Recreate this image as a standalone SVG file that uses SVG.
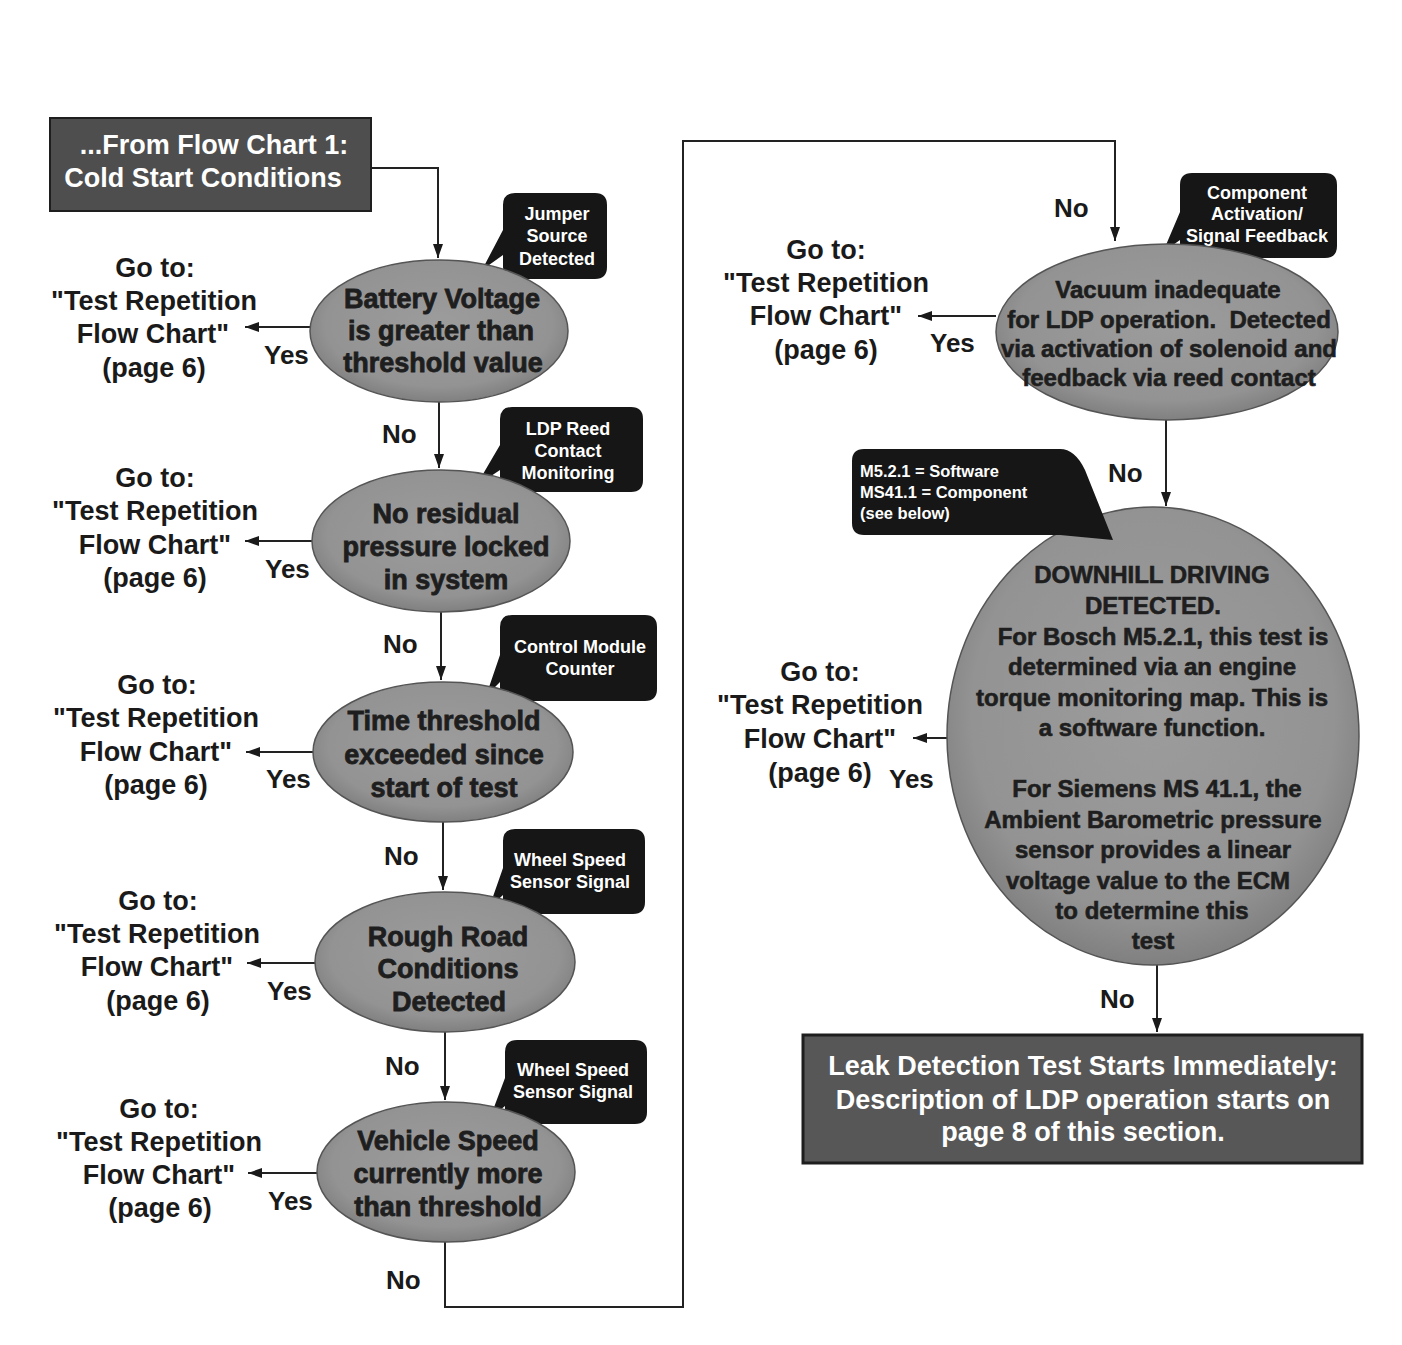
<svg xmlns="http://www.w3.org/2000/svg" width="1402" height="1345" viewBox="0 0 1402 1345">
<style>
.bg{fill:#ffffff}
.conn{fill:none;stroke:#222;stroke-width:2}
.box{fill:#4e4e4e;stroke:#1e1e1e;stroke-width:2}
.box2{fill:#575757;stroke:#1e1e1e;stroke-width:3}
.ell{fill:url(#eg);stroke:#555;stroke-width:1.5}
.call{fill:#161616}
.wt{font-family:"Liberation Sans",Arial,sans-serif;font-weight:bold;fill:#ffffff;text-anchor:middle}
.et{font-family:"Liberation Sans",Arial,sans-serif;font-weight:bold;fill:#1e1e1e;text-anchor:middle;font-size:27px;stroke:#1e1e1e;stroke-width:0.8}
.et2{font-family:"Liberation Sans",Arial,sans-serif;font-weight:bold;fill:#1e1e1e;text-anchor:middle;font-size:24px;stroke:#1e1e1e;stroke-width:0.6}
.gt{font-family:"Liberation Sans",Arial,sans-serif;font-weight:bold;fill:#1a1a1a;text-anchor:middle;font-size:27px}
.lb{font-family:"Liberation Sans",Arial,sans-serif;font-weight:bold;fill:#1a1a1a;font-size:26px}
.ct{font-family:"Liberation Sans",Arial,sans-serif;font-weight:bold;fill:#ffffff;text-anchor:middle;font-size:18px}
</style>
<defs>
<radialGradient id="eg" cx="50%" cy="45%" r="55%">
<stop offset="0" stop-color="#9c9c9c"/>
<stop offset="0.8" stop-color="#939393"/>
<stop offset="1" stop-color="#808080"/>
</radialGradient>
<marker id="ah" viewBox="0 0 14 10" refX="14" refY="5" markerWidth="14" markerHeight="10" markerUnits="userSpaceOnUse" orient="auto">
<path d="M0,0 L14,5 L0,10 z" fill="#1a1a1a"/>
</marker>
</defs>
<rect class="bg" x="0" y="0" width="1402" height="1345"/>

<g id="connectors">
<path class="conn" d="M371,168 H438 V258" marker-end="url(#ah)"/>
<path class="conn" d="M311,327 H245" marker-end="url(#ah)"/>
<path class="conn" d="M439,402 V468" marker-end="url(#ah)"/>
<path class="conn" d="M313,541 H245" marker-end="url(#ah)"/>
<path class="conn" d="M441,612 V680" marker-end="url(#ah)"/>
<path class="conn" d="M314,752 H246" marker-end="url(#ah)"/>
<path class="conn" d="M443,822 V890" marker-end="url(#ah)"/>
<path class="conn" d="M316,963 H247" marker-end="url(#ah)"/>
<path class="conn" d="M445,1032 V1100" marker-end="url(#ah)"/>
<path class="conn" d="M318,1173 H248" marker-end="url(#ah)"/>
<path class="conn" d="M445,1242 V1307 H683 V141 H1115 V241" marker-end="url(#ah)"/>
<path class="conn" d="M996,316 H918" marker-end="url(#ah)"/>
<path class="conn" d="M1166,420 V506" marker-end="url(#ah)"/>
<path class="conn" d="M948,738 H913" marker-end="url(#ah)"/>
<path class="conn" d="M1157,965 V1032" marker-end="url(#ah)"/>
</g>

<g id="start">
<rect class="box" x="50" y="118" width="321" height="93"/>
<text class="wt" font-size="27" x="214" y="154">...From Flow Chart 1:</text>
<text class="wt" font-size="27" x="203" y="187">Cold Start Conditions</text>
</g>

<g id="n1">
<path class="call" d="M515,193 H595 Q607,193 607,205 V267 Q607,279 595,279 H515 Q503,279 503,267 V255 L482,270 L503,230 V205 Q503,193 515,193 Z"/>
<text class="ct" x="557" y="220">Jumper</text>
<text class="ct" x="557" y="242">Source</text>
<text class="ct" x="557" y="265">Detected</text>
<ellipse class="ell" cx="439" cy="331" rx="129" ry="71"/>
<text class="et" x="442" y="308">Battery Voltage</text>
<text class="et" x="441" y="340">is greater than</text>
<text class="et" x="443" y="372">threshold value</text>
</g>
<g id="y1">
<text class="gt" x="155" y="277">Go to:</text>
<text class="gt" x="154" y="310">"Test Repetition</text>
<text class="gt" x="153" y="343">Flow Chart"</text>
<text class="gt" x="154" y="377">(page 6)</text>
<text class="lb" x="264" y="364">Yes</text>
<text class="lb" x="382" y="443">No</text>
</g>

<g id="n2">
<path class="call" d="M512,407 H631 Q643,407 643,419 V480 Q643,492 631,492 H512 Q500,492 500,480 V470 L476,486 L500,445 V419 Q500,407 512,407 Z"/>
<text class="ct" x="568" y="435">LDP Reed</text>
<text class="ct" x="568" y="457">Contact</text>
<text class="ct" x="568" y="479">Monitoring</text>
<ellipse class="ell" cx="441" cy="541" rx="129" ry="71"/>
<text class="et" x="446" y="523">No residual</text>
<text class="et" x="446" y="556">pressure locked</text>
<text class="et" x="446" y="589">in system</text>
</g>
<g id="y2">
<text class="gt" x="155" y="487">Go to:</text>
<text class="gt" x="155" y="520">"Test Repetition</text>
<text class="gt" x="155" y="554">Flow Chart"</text>
<text class="gt" x="155" y="587">(page 6)</text>
<text class="lb" x="265" y="578">Yes</text>
<text class="lb" x="383" y="653">No</text>
</g>

<g id="n3">
<path class="call" d="M512,615 H645 Q657,615 657,627 V689 Q657,701 645,701 H512 Q500,701 500,689 V682 L486,696 L500,655 V627 Q500,615 512,615 Z"/>
<text class="ct" x="580" y="653">Control Module</text>
<text class="ct" x="580" y="675">Counter</text>
<ellipse class="ell" cx="443" cy="752" rx="130" ry="70"/>
<text class="et" x="444" y="730">Time threshold</text>
<text class="et" x="444" y="764">exceeded since</text>
<text class="et" x="444" y="797">start of test</text>
</g>
<g id="y3">
<text class="gt" x="157" y="694">Go to:</text>
<text class="gt" x="156" y="727">"Test Repetition</text>
<text class="gt" x="156" y="761">Flow Chart"</text>
<text class="gt" x="156" y="794">(page 6)</text>
<text class="lb" x="266" y="788">Yes</text>
<text class="lb" x="384" y="865">No</text>
</g>

<g id="n4">
<path class="call" d="M515,829 H633 Q645,829 645,841 V902 Q645,914 633,914 H515 Q503,914 503,902 V895 L489,908 L503,868 V841 Q503,829 515,829 Z"/>
<text class="ct" x="570" y="866">Wheel Speed</text>
<text class="ct" x="570" y="888">Sensor Signal</text>
<ellipse class="ell" cx="445" cy="962" rx="130" ry="70"/>
<text class="et" x="448" y="946">Rough Road</text>
<text class="et" x="448" y="978">Conditions</text>
<text class="et" x="449" y="1011">Detected</text>
</g>
<g id="y4">
<text class="gt" x="158" y="910">Go to:</text>
<text class="gt" x="157" y="943">"Test Repetition</text>
<text class="gt" x="157" y="976">Flow Chart"</text>
<text class="gt" x="158" y="1010">(page 6)</text>
<text class="lb" x="267" y="1000">Yes</text>
<text class="lb" x="385" y="1075">No</text>
</g>

<g id="n5">
<path class="call" d="M517,1040 H635 Q647,1040 647,1052 V1112 Q647,1124 635,1124 H517 Q505,1124 505,1112 V1106 L490,1118 L505,1078 V1052 Q505,1040 517,1040 Z"/>
<text class="ct" x="573" y="1076">Wheel Speed</text>
<text class="ct" x="573" y="1098">Sensor Signal</text>
<ellipse class="ell" cx="446" cy="1172" rx="129" ry="70"/>
<text class="et" x="448" y="1150">Vehicle Speed</text>
<text class="et" x="448" y="1183">currently more</text>
<text class="et" x="448" y="1216">than threshold</text>
</g>
<g id="y5">
<text class="gt" x="159" y="1118">Go to:</text>
<text class="gt" x="159" y="1151">"Test Repetition</text>
<text class="gt" x="159" y="1184">Flow Chart"</text>
<text class="gt" x="160" y="1217">(page 6)</text>
<text class="lb" x="268" y="1210">Yes</text>
<text class="lb" x="386" y="1289">No</text>
</g>

<g id="n6">
<path class="call" d="M1192,173 H1325 Q1337,173 1337,185 V246 Q1337,258 1325,258 H1192 Q1180,258 1180,246 V240 L1163,252 L1180,212 V185 Q1180,173 1192,173 Z"/>
<text class="ct" x="1257" y="199">Component</text>
<text class="ct" x="1257" y="220">Activation/</text>
<text class="ct" x="1257" y="242">Signal Feedback</text>
<ellipse class="ell" cx="1167" cy="332" rx="171" ry="88"/>
<text class="et2" x="1168" y="298">Vacuum inadequate</text>
<text class="et2" x="1169" y="328" xml:space="preserve">for LDP operation.  Detected</text>
<text class="et2" x="1169" y="357">via activation of solenoid and</text>
<text class="et2" x="1169" y="386">feedback via reed contact</text>
</g>
<g id="y6">
<text class="lb" x="1054" y="217">No</text>
<text class="gt" x="826" y="259">Go to:</text>
<text class="gt" x="826" y="292">"Test Repetition</text>
<text class="gt" x="826" y="325">Flow Chart"</text>
<text class="gt" x="826" y="359">(page 6)</text>
<text class="lb" x="930" y="352">Yes</text>
<text class="lb" x="1108" y="482">No</text>
</g>

<g id="n7">
<ellipse class="ell" cx="1153" cy="736" rx="206" ry="229"/>
<path class="call" d="M864,449 H1060 Q1075,449 1085,470 L1113,540 L1060,535 H864 Q852,535 852,523 V461 Q852,449 864,449 Z"/>
<text font-family="Liberation Sans,Arial,sans-serif" font-weight="bold" font-size="16.5" fill="#ffffff" x="860" y="477">M5.2.1 = Software</text>
<text font-family="Liberation Sans,Arial,sans-serif" font-weight="bold" font-size="16.5" fill="#ffffff" x="860" y="498">MS41.1 = Component</text>
<text font-family="Liberation Sans,Arial,sans-serif" font-weight="bold" font-size="16.5" fill="#ffffff" x="860" y="519">(see below)</text>
<text class="et2" x="1152" y="583">DOWNHILL DRIVING</text>
<text class="et2" x="1153" y="614">DETECTED.</text>
<text class="et2" x="1163" y="645">For Bosch M5.2.1, this test is</text>
<text class="et2" x="1152" y="675">determined via an engine</text>
<text class="et2" x="1152" y="706">torque monitoring map. This is</text>
<text class="et2" x="1152" y="736">a software function.</text>
<text class="et2" x="1157" y="797">For Siemens MS 41.1, the</text>
<text class="et2" x="1153" y="828">Ambient Barometric pressure</text>
<text class="et2" x="1153" y="858">sensor provides a linear</text>
<text class="et2" x="1148" y="889">voltage value to the ECM</text>
<text class="et2" x="1152" y="919">to determine this</text>
<text class="et2" x="1153" y="949">test</text>
</g>
<g id="y7">
<text class="gt" x="820" y="681">Go to:</text>
<text class="gt" x="820" y="714">"Test Repetition</text>
<text class="gt" x="820" y="748">Flow Chart"</text>
<text class="gt" x="820" y="782">(page 6)</text>
<text class="lb" x="889" y="788">Yes</text>
<text class="lb" x="1100" y="1008">No</text>
</g>

<g id="end">
<rect class="box2" x="803" y="1035" width="559" height="128"/>
<text class="wt" font-size="27" x="1083" y="1075">Leak Detection Test Starts Immediately:</text>
<text class="wt" font-size="27" x="1083" y="1109">Description of LDP operation starts on</text>
<text class="wt" font-size="27" x="1083" y="1141">page 8 of this section.</text>
</g>
</svg>
